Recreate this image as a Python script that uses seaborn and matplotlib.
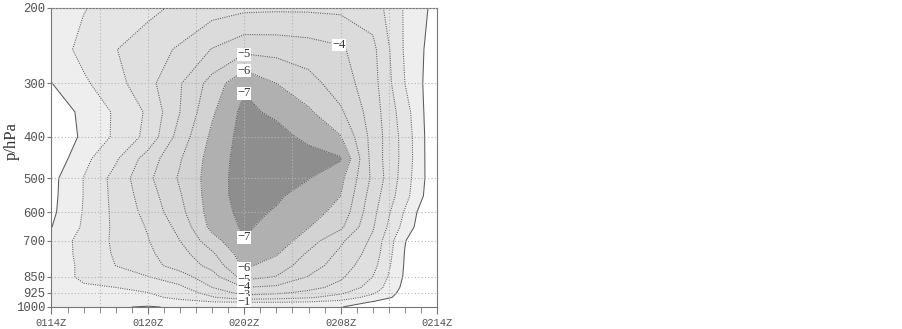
import numpy as np
import seaborn as sns
import matplotlib.pyplot as plt
from matplotlib.ticker import MultipleLocator, FixedLocator, NullLocator

# hours after 01/14Z, pressure levels (hPa)
hours = [0, 2, 4, 6, 8, 10, 12, 14, 16, 18, 20, 22, 24]
pressure = [1000, 975, 950, 925, 900, 850, 800, 750, 700, 650,
            600, 550, 500, 450, 400, 350, 300, 250, 200]

# field values per level (one value per hour column)
p1000 = [-0.2, -0.1, -0.1, 0.1, -0.15, -0.3, -0.5, -0.5, -0.3, -0.03, 0.4, 0.8, 1.5]
p975 = [-0.3, -0.35, -0.4, -0.5, -0.7, -0.9, -1.0, -1.0, -0.9, -0.6, 0.1, 0.5, 1.5]
p950 = [-0.4, -0.5, -0.6, -0.8, -1.2, -1.9, -2.6, -2.4, -2.1, -1.6, -0.6, 0.4, 1.5]
p925 = [-0.5, -0.7, -0.8, -1.0, -1.5, -2.4, -3.4, -3.2, -2.8, -2.2, -1.2, 0.4, 1.5]
p900 = [-0.7, -0.9, -1.0, -1.2, -1.8, -3.0, -4.0, -3.8, -3.3, -2.7, -1.6, 0.3, 1.5]
p850 = [-0.6, -1.15, -1.56, -1.97, -2.6, -3.6, -5.4, -4.96, -3.95, -3.15, -2.0, 0.15, 1.5]
p800 = [-0.55, -1.17, -2.01, -2.66, -3.38, -4.3, -6.2, -5.52, -4.5, -3.5, -2.35, 0.1, 1.5]
p750 = [-0.5, -1.25, -2.13, -2.82, -3.63, -4.86, -6.55, -6.1, -4.86, -3.8, -2.6, 0.05, 1.5]
p700 = [-0.4, -1.32, -2.18, -2.95, -4.0, -5.59, -6.95, -6.6, -5.46, -4.18, -2.8, -0.05, 1.5]
p650 = [0.02, -1.13, -2.2, -3.08, -4.3, -6.3, -7.15, -6.65, -6.04, -5.2, -3.1, -0.6, 1.5]
p600 = [0.2, -1.06, -2.24, -3.32, -4.7, -6.45, -7.3, -6.9, -6.36, -5.7, -3.3, -0.9, 1.5]
p550 = [0.26, -1.02, -2.3, -3.52, -4.91, -6.51, -7.45, -7.15, -6.56, -6.0, -3.49, -1.35, 1.0]
p500 = [0.3, -1.02, -2.36, -3.78, -5.13, -6.48, -7.5, -7.7, -7.04, -6.27, -3.78, -1.49, 0.9]
p450 = [0.75, -0.71, -1.86, -3.46, -4.92, -6.43, -7.45, -7.7, -7.6, -7.1, -3.6, -1.63, 1.0]
p400 = [0.8, -0.18, -1.17, -2.29, -4.44, -6.22, -7.4, -7.5, -6.65, -6.05, -3.62, -1.6, 1.0]
p350 = [0.65, -0.24, -1.14, -2.15, -4.0, -5.86, -7.3, -6.74, -6.15, -5.16, -3.52, -1.43, 1.0]
p300 = [0.02, -0.83, -1.64, -2.68, -3.92, -5.4, -6.85, -6.0, -5.37, -4.5, -3.4, -1.0, 0.8]
p250 = [-0.45, -1.29, -1.97, -2.53, -3.14, -4.05, -4.75, -4.7, -4.5, -4.15, -3.27, -0.87, 0.6]
p200 = [-0.55, -0.95, -1.36, -1.76, -2.2, -2.6, -2.8, -2.85, -2.85, -2.8, -2.55, -0.89, 0.35]

tick_hours = [0, 6, 12, 18, 24]
tick_labels = ["0114Z", "0120Z", "0202Z", "0208Z", "0214Z"]
p_ticks = [1000, 925, 850, 700, 600, 500, 400, 300, 200]

line_levels = [-7, -6, -5, -4, -3, -2, -1, 0]
fill_levels = [-9, -7, -6, -5, -4, -3, -2, -1, 0, 3]
fill_colors = ["#8e8e8e", "#b0b0b0", "#d3d3d3", "#d7d7d7", "#dbdbdb",
               "#dfdfdf", "#e5e5e5", "#eeeeee", "#ffffff"]

# where the contour labels sit (hour, hPa)
label_pos = [(18.0, 235), (12.0, 258), (12.0, 282), (12.0, 316),
             (12.0, 716), (12.0, 828), (12.0, 865), (12.0, 903),
             (12.0, 937), (12.0, 974)]

field = np.array([p1000, p975, p950, p925, p900, p850, p800, p750, p700, p650,
                  p600, p550, p500, p450, p400, p350, p300, p250, p200])

sns.set_style("white")
plt.rcParams['font.family'] = ['Liberation Serif', 'DejaVu Serif']

fig = plt.figure(figsize=(9.03, 3.29), dpi=100)
ax = fig.add_axes([0.057, 0.0669, 0.427, 0.9088])

ax.contourf(hours, pressure, field, levels=fill_levels, colors=fill_colors)
styles = ["solid" if lv >= 0 else (0, (1, 1.2)) for lv in line_levels]
cs = ax.contour(hours, pressure, field, levels=line_levels, colors="#5a5a5a",
                linewidths=0.75, linestyles=styles)

ax.set_yscale("log")
ax.set_ylim(1000, 200)
ax.set_xlim(0, 24)
ax.yaxis.set_major_locator(FixedLocator(p_ticks))
ax.yaxis.set_minor_locator(NullLocator())
ax.set_yticklabels([str(p) for p in p_ticks])
ax.set_xticks(tick_hours)
ax.set_xticklabels(tick_labels)
ax.xaxis.set_minor_locator(MultipleLocator(1))

# dotted grid
ax.set_axisbelow(False)
ax.grid(axis="y", which="major", linestyle=(0, (1, 2)), color="#b4b4b4", lw=0.8)
for h in range(3, 24, 3):
    ax.axvline(h, linestyle=(0, (1, 2)), color="#b4b4b4", lw=0.8, zorder=2.5)

lbls = ax.clabel(cs, levels=line_levels[:-1], manual=label_pos, inline=True,
                 inline_spacing=1, fontsize=9,
                 fmt=lambda v: "\u2212%d" % abs(int(round(v))))
for t in lbls:
    t.set_bbox(dict(facecolor="white", edgecolor="none", pad=0.3))
    t.set_color("#333333")
    t.set_rotation(0)

for s in ax.spines.values():
    s.set_color("#777777")
    s.set_linewidth(0.8)
ax.tick_params(axis="both", which="both", direction="out", color="#777777",
               bottom=True, left=True)
ax.tick_params(axis="y", length=3, labelsize=8.8, labelcolor="#505050", pad=1.5)
ax.tick_params(axis="x", which="major", length=5, labelsize=7.5, labelcolor="#505050", pad=3)
ax.tick_params(axis="x", which="minor", length=4)
for t in ax.get_xticklabels() + ax.get_yticklabels():
    t.set_fontfamily("Liberation Mono")

ax.set_ylabel("p/hPa", fontsize=12, color="#333333")
ax.yaxis.set_label_coords(-0.0817, 0.555)

fig.savefig("out.png", dpi=100, facecolor="white")
